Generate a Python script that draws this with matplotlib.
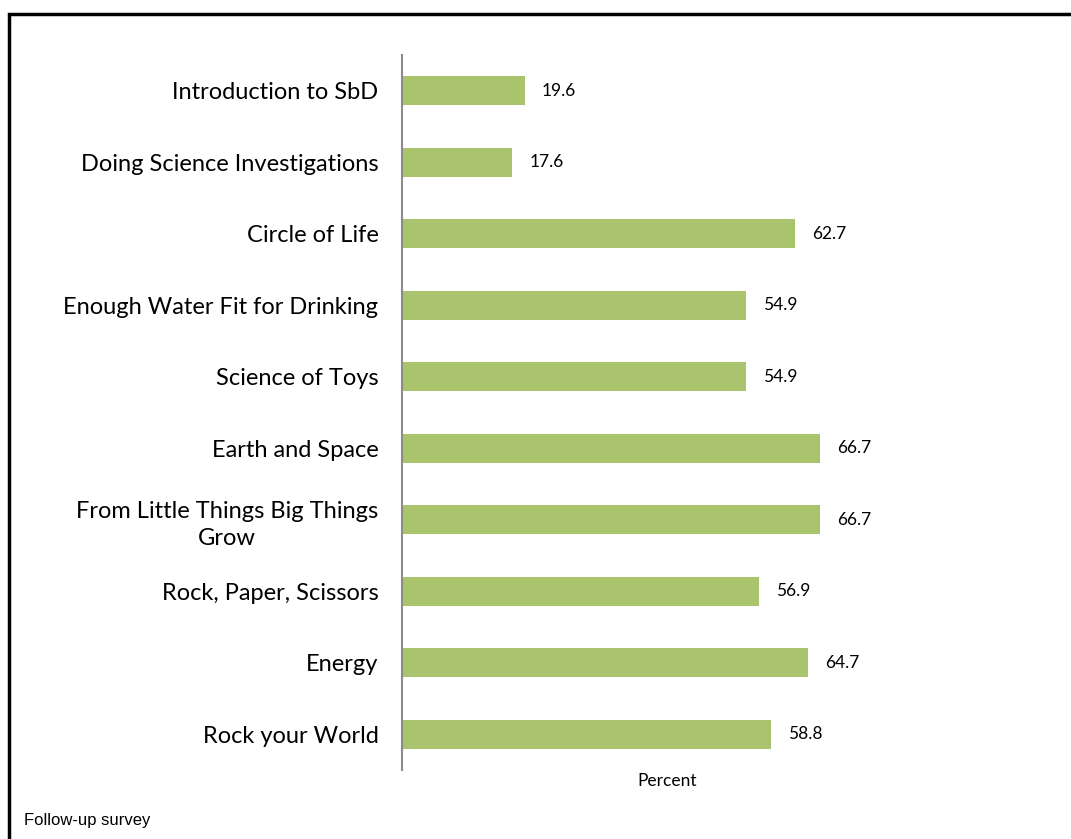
import matplotlib.pyplot as plt
from matplotlib.patches import Rectangle

categories = ["Introduction to SbD", "Doing Science Investigations", "Circle of Life",
              "Enough Water Fit for Drinking", "Science of Toys", "Earth and Space",
              "From Little Things Big Things\nGrow", "Rock, Paper, Scissors", "Energy",
              "Rock your World"]
values = [19.6, 17.6, 62.7, 54.9, 54.9, 66.7, 66.7, 56.9, 64.7, 58.8]

fig = plt.figure(figsize=(10.71, 8.39), dpi=100)
ax = fig.add_axes([402 / 1071, 1 - 770 / 839, 530 / 1071, 715 / 839])

pos = list(range(len(categories)))
ax.barh(pos, values, height=0.4, color="#A9C46C", edgecolor="none")
for p, v in zip(pos, values):
    ax.text(v + 2.7, p, f"{v:.1f}", va="center", ha="left", fontsize=12.5, family="Lato")

ax.set_ylim(len(categories) - 0.5, -0.5)
ax.set_xlim(0, 84.5)
ax.set_yticks(pos)
ax.set_yticklabels(categories, fontsize=17, family="Lato", ha="right",
                   multialignment="center", linespacing=1.35)
ax.tick_params(axis="y", length=0, pad=17)
ax.set_xticks([])
for s in ["top", "right", "bottom"]:
    ax.spines[s].set_visible(False)
ax.spines["left"].set_color("#8c8c8c")
ax.spines["left"].set_linewidth(1.5)
ax.set_xlabel("Percent", fontsize=12.5, family="Lato", labelpad=2)

fig.text(24 / 1071, 1 - 820 / 839, "Follow-up survey", fontsize=12,
         family="Liberation Sans", va="center")
fig.patches.append(Rectangle((9 / 1071, -0.05), 1.2, 1 - 14 / 839 + 0.05,
                             transform=fig.transFigure, fill=False,
                             edgecolor="black", linewidth=2.5))

fig.savefig("out.png", dpi=100)
